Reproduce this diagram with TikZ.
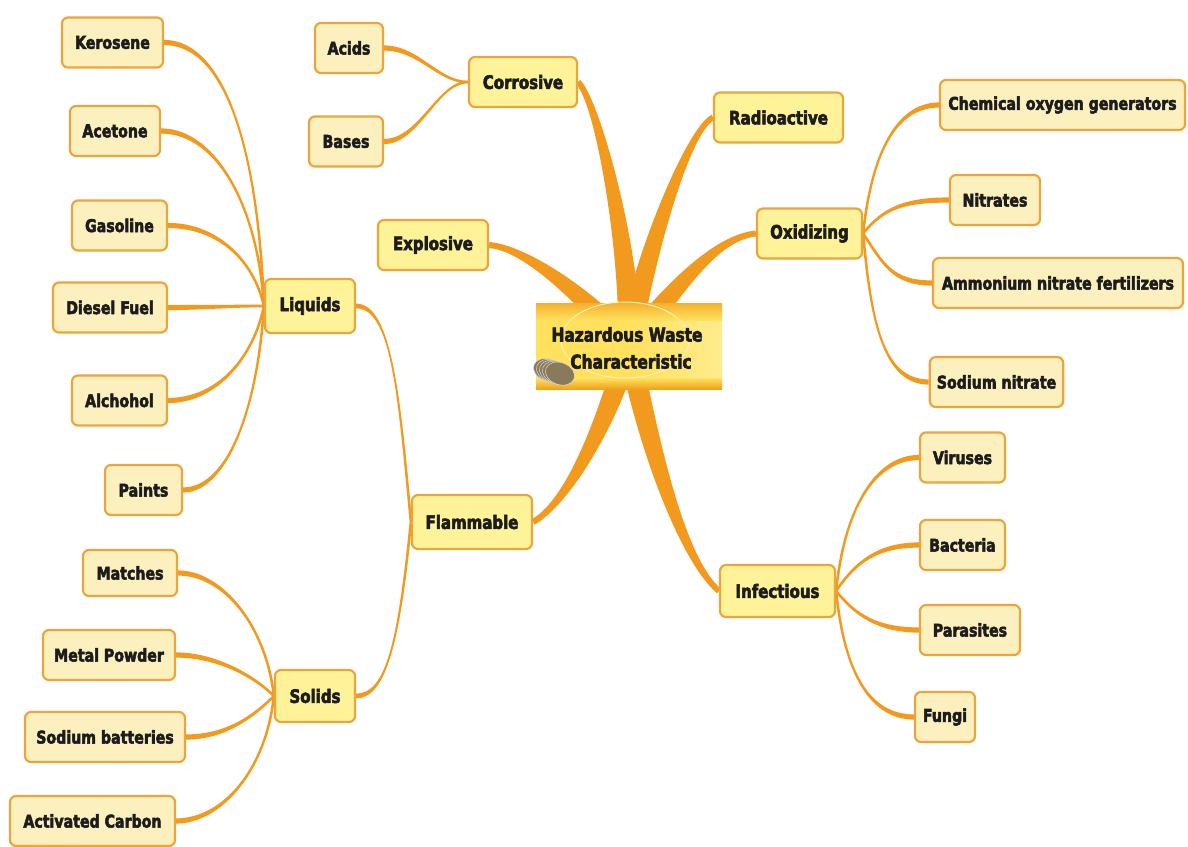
\documentclass[tikz,border=0pt]{standalone}
\usepackage{fontspec}
\newfontfamily\mapfont{DejaVu Sans Condensed Bold}[FakeStretch=0.9, FakeBold=3]
\usetikzlibrary{calc}
\pgfdeclarelayer{background}
\pgfsetlayers{background,main}

\definecolor{branchorange}{HTML}{F29A1E}
\definecolor{leafborder}{HTML}{EBA53B}
\definecolor{leaffill}{HTML}{FDF0BF}
\definecolor{catfill}{HTML}{FFF39A}
\definecolor{inkdark}{HTML}{1C1C1C}
\definecolor{hubtop}{HTML}{F4B02E}
\definecolor{hubmid}{HTML}{FFE15E}
\definecolor{hublight}{HTML}{FFEC8E}
\definecolor{hubbottom}{HTML}{F0A21A}
\definecolor{bulbbase}{HTML}{8A7A5C}

% Tapered curved branch: style, from, control offset at start,
% control offset at end, to, half width at start, half width at end
\newcommand\taper[7]{%
  \path ($(#2)+(#3)$) coordinate (tq1) ($(#5)+(#4)$) coordinate (tq2);
  \path ($(#2)!#6!90:(tq1)$) coordinate (tA) ($(#2)!#6!-90:(tq1)$) coordinate (tB)
        ($(#5)!#7!-90:(tq2)$) coordinate (tC) ($(#5)!#7!90:(tq2)$) coordinate (tD);
  \fill[#1] (tA) .. controls ($(tq1)+(tA)-(#2)$) and ($(tq2)+(tC)-(#5)$) .. (tC)
     -- (tD) .. controls ($(tq2)+(tD)-(#5)$) and ($(tq1)+(tB)-(#2)$) .. (tB) -- cycle;
}

\tikzset{
  leaf/.style={draw=leafborder, line width=2.2pt, fill=leaffill, rounded corners=6pt,
    minimum height=50pt, inner xsep=7pt, text=inkdark,
    font=\mapfont\fontsize{17.5}{19}\selectfont},
  cat/.style={leaf, fill=catfill, font=\mapfont\fontsize{18.5}{20}\selectfont},
  mainbranch/.style={fill=branchorange},
  subbranch/.style={fill=branchorange},
}

\begin{document}
\begin{tikzpicture}[x=1pt, y=-1pt]
\useasboundingbox (0,0) rectangle (1188,846);

% central topic: a glowing card with a light bulb sketch
\fill[hubmid] (536,303) rectangle (722,389);
\shade[left color=hubmid, right color=hublight] (630,318) rectangle (722,380);
\shade[top color=hubtop, bottom color=hubmid] (536,303) rectangle (722,320);
\shade[top color=hubmid, bottom color=hubbottom] (536,378) rectangle (722,389);
\node[minimum width=186pt, minimum height=86pt] (hub) at (629,346) {};
\draw[white!55!hubmid, line width=1pt] (625,340) ellipse (64pt and 38pt);
\foreach \i in {0,...,4}{
  \fill[bulbbase] ($(548,370)+(\i*3,\i*0.9)$) ellipse [x radius=15pt, y radius=11pt, rotate=-20];
  \draw[gray!25, line width=0.5pt] ($(548,370)+(\i*3,\i*0.9)$) ellipse [x radius=15pt, y radius=11pt, rotate=-20];
}
\node[text=inkdark, align=center, font=\mapfont\fontsize{19}{27}\selectfont] (hubtext) at (627,348)
  {Hazardous Waste\\\hspace*{8pt}Characteristic};

% main topics
\node[cat, minimum width=108pt] (corrosive) at (523,82) {Corrosive};
\node[cat, minimum width=129pt] (radioactive) at (778.5,117.5) {Radioactive};
\node[cat, minimum width=110pt] (explosive) at (433,245) {Explosive};
\node[cat, minimum width=105pt] (oxidizing) at (809.5,233.5) {Oxidizing};
\node[cat, minimum width=120pt, minimum height=54pt] (flammable) at (472,522) {Flammable};
\node[cat, minimum width=115pt, minimum height=52pt] (infectious) at (777.5,591) {Infectious};

% corrosive
\node[leaf, minimum width=68pt] (acids) at (349,48) {Acids};
\node[leaf, minimum width=74pt] (bases) at (346,141.5) {Bases};

% flammable
\node[cat, minimum width=90pt, minimum height=54pt] (liquids) at (310,306) {Liquids};
\node[cat, minimum width=80pt, minimum height=52pt] (solids) at (315,696) {Solids};
\node[leaf, minimum width=101pt] (kerosene) at (112.5,42.5) {Kerosene};
\node[leaf, minimum width=90pt] (acetone) at (115,131) {Acetone};
\node[leaf, minimum width=95pt] (gasoline) at (119.5,225.5) {Gasoline};
\node[leaf, minimum width=114pt] (diesel) at (110,307.5) {Diesel Fuel};
\node[leaf, minimum width=95pt] (alchohol) at (119.5,400.5) {Alchohol};
\node[leaf, minimum width=77pt] (paints) at (143.5,490) {Paints};
\node[leaf, minimum width=94pt, minimum height=46pt] (matches) at (130,573) {Matches};
\node[leaf, minimum width=132pt] (metal) at (109,655) {Metal Powder};
\node[leaf, minimum width=160pt] (sodbat) at (105,737) {Sodium batteries};
\node[leaf, minimum width=165pt] (activated) at (92.5,821) {Activated Carbon};

% oxidizing
\node[leaf, minimum width=245pt] (chemox) at (1062.5,105) {Chemical oxygen generators};
\node[leaf, minimum width=90pt] (nitrates) at (995,200) {Nitrates};
\node[leaf, minimum width=250pt] (ammonium) at (1058,283) {Ammonium nitrate fertilizers};
\node[leaf, minimum width=117pt] (sodnit) at (996.5,382) {Sodium nitrate};

% infectious
\node[leaf, minimum width=85pt] (viruses) at (962.5,457.5) {Viruses};
\node[leaf, minimum width=85pt] (bacteria) at (962.5,545) {Bacteria};
\node[leaf, minimum width=100pt] (parasites) at (970,630) {Parasites};
\node[leaf, minimum width=60pt] (fungi) at (945,717) {Fungi};

\begin{pgfonlayer}{background}
  % thick branches out of the central topic
  \taper{mainbranch}{hub.center}{3,-90}{20,20}{corrosive.east}{11pt}{3pt}
  \taper{mainbranch}{hub.center}{13,-83}{-25,12}{radioactive.west}{11pt}{3pt}
  \taper{mainbranch}{hub.center}{-42,-48}{37,3}{explosive.east}{11pt}{3pt}
  \taper{mainbranch}{hub.center}{43,-53}{-42,4}{oxidizing.west}{11pt}{3pt}
  \taper{mainbranch}{hub.center}{-22,77}{35,-20}{flammable.east}{11pt}{3pt}
  \taper{mainbranch}{hub.center}{21,107}{-35,-30}{infectious.west}{11pt}{3pt}

  % corrosive
  \taper{subbranch}{corrosive.west}{-30,0}{35,0}{acids.east}{1.3pt}{2.6pt}
  \taper{subbranch}{corrosive.west}{-30,0}{35,0}{bases.east}{1.3pt}{2.6pt}

  % flammable
  \taper{subbranch}{flammable.west}{-12,-130}{35,0}{liquids.east}{1.3pt}{2.4pt}
  \taper{subbranch}{flammable.west}{-12,120}{30,0}{solids.east}{1.3pt}{2.4pt}

  \taper{subbranch}{liquids.west}{-6,-160}{60,0}{kerosene.east}{1.3pt}{2.6pt}
  \taper{subbranch}{liquids.west}{-6,-100}{55,0}{acetone.east}{1.3pt}{2.6pt}
  \taper{subbranch}{liquids.west}{-10,-45}{50,0}{gasoline.east}{1.3pt}{2.6pt}
  \taper{subbranch}{liquids.west}{-30,0}{30,0}{diesel.east}{1.3pt}{2.6pt}
  \taper{subbranch}{liquids.west}{-10,50}{50,0}{alchohol.east}{1.3pt}{2.6pt}
  \taper{subbranch}{liquids.west}{-6,100}{45,0}{paints.east}{1.3pt}{2.6pt}

  \taper{subbranch}{solids.west}{-8,-70}{45,0}{matches.east}{1.3pt}{2.6pt}
  \taper{subbranch}{solids.west}{-20,-20}{40,0}{metal.east}{1.3pt}{2.6pt}
  \taper{subbranch}{solids.west}{-20,20}{40,0}{sodbat.east}{1.3pt}{2.6pt}
  \taper{subbranch}{solids.west}{-8,75}{45,0}{activated.east}{1.3pt}{2.6pt}

  % oxidizing
  \taper{subbranch}{oxidizing.east}{8,-75}{-45,0}{chemox.west}{1.3pt}{2.6pt}
  \taper{subbranch}{oxidizing.east}{20,-25}{-45,0}{nitrates.west}{1.3pt}{2.6pt}
  \taper{subbranch}{oxidizing.east}{20,30}{-40,0}{ammonium.west}{1.3pt}{2.6pt}
  \taper{subbranch}{oxidizing.east}{8,90}{-45,0}{sodnit.west}{1.3pt}{2.6pt}

  % infectious
  \taper{subbranch}{infectious.east}{8,-80}{-45,0}{viruses.west}{1.3pt}{2.6pt}
  \taper{subbranch}{infectious.east}{20,-30}{-40,0}{bacteria.west}{1.3pt}{2.6pt}
  \taper{subbranch}{infectious.east}{20,25}{-40,0}{parasites.west}{1.3pt}{2.6pt}
  \taper{subbranch}{infectious.east}{8,80}{-45,0}{fungi.west}{1.3pt}{2.6pt}
\end{pgfonlayer}
\end{tikzpicture}
\end{document}
